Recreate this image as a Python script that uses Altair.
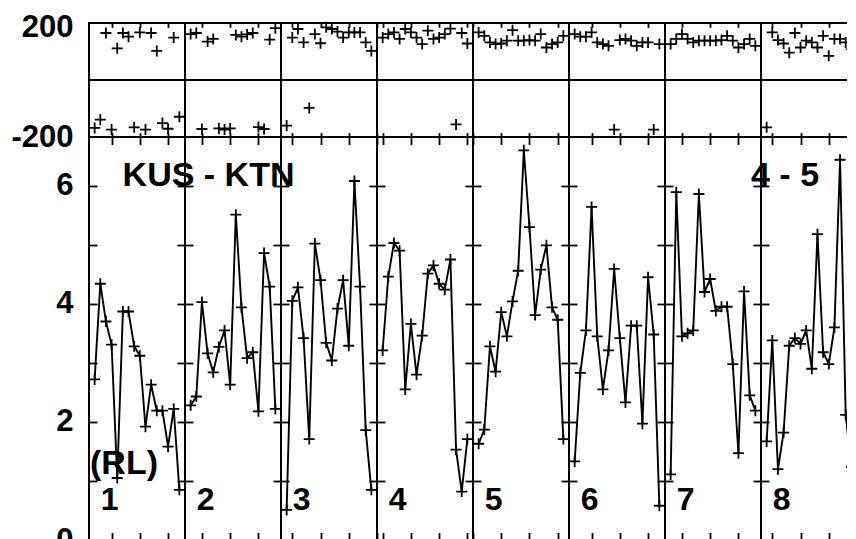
import altair as alt
import pandas as pd

# ---------------- data ----------------
panel_numbers = ["1", "2", "3", "4", "5", "6", "7", "8"]

amplitude = [
    [2.72, 4.34, 3.70, 3.31, 1.05, 3.87, 3.87, 3.28, 3.12, 1.92, 2.63, 2.19, 2.19, 1.58, 2.22, 0.85],
    [2.28, 2.43, 4.03, 3.16, 2.84, 3.27, 3.55, 2.63, 5.51, 3.94, 3.08, 3.18, 2.18, 4.86, 4.29, 2.22],
    [0.51, 4.05, 4.28, 3.42, 1.71, 5.02, 4.40, 3.34, 3.04, 3.92, 4.40, 3.29, 6.08, 4.29, 1.86, 0.85],
    [3.21, 4.46, 5.03, 4.90, 2.55, 3.66, 2.80, 3.46, 4.51, 4.65, 4.34, 4.24, 4.75, 1.53, 0.82, 1.71],
    [1.63, 1.87, 3.28, 2.85, 3.86, 3.45, 4.04, 4.56, 6.60, 5.30, 3.81, 4.58, 4.99, 3.94, 3.73, 1.71],
    [1.33, 2.83, 3.55, 5.64, 3.45, 2.55, 3.21, 4.59, 3.42, 2.33, 3.63, 3.63, 1.97, 4.45, 3.48, 0.58],
    [1.11, 5.89, 3.45, 3.50, 3.55, 5.86, 4.20, 4.42, 3.88, 3.95, 3.95, 2.98, 1.47, 4.21, 2.45, 2.19],
    [1.67, 3.38, 1.20, 1.82, 3.29, 3.42, 3.32, 3.55, 2.90, 5.18, 3.18, 2.98, 3.60, 6.44, 2.12, 1.24],
]

phase = [
    [-168, -139, 165, -174, 111, 165, 152, -166, 167, -174, 165, 102, -151, -171, 149, -129],
    [161, 165, -172, 135, 144, -170, -174, -170, 158, 152, 160, 165, -165, -172, 142, 182],
    [-160, 149, 179, 132, -98, 161, 129, 185, 179, 170, 149, 167, 167, 167, 132, 102],
    [149, 161, 167, 144, 179, 167, 149, 126, 173, 144, 149, 161, 180, -156, 165, 128],
    [167, 155, 132, 126, 128, 138, 175, 138, 138, 140, 138, 161, 114, 126, 132, 155],
    [161, 152, 152, 167, 132, 126, 120, -174, 140, 144, 138, 120, 132, 132, -174, 126],
    [126, 144, 161, 144, 132, 138, 138, 138, 138, 140, 155, 138, 114, 126, 144, 120],
    [-166, 167, 140, 128, 96, 165, 114, 138, 132, 114, 155, 85, 144, 144, 132, 108],
]

amp_ticks = [0, 1, 2, 3, 4, 5, 6]
phase_top_label = [200]
phase_bottom_label = [-200]

ann_text = ["KUS - KTN", "(RL)", "4 - 5"]
ann_panel = [0, 0, 7]

# ---------------- layout / style ----------------
FONT = "Liberation Sans"
PANEL_W, TOP_H, LOW_H = 96, 114, 403
LAST_W = 86            # last panel is cut by the window edge
N = 16                 # samples per panel
SPAN = 17              # x extent of a full panel
AMP_DOMAIN = [0, 6.825]
PHASE_DOMAIN = [-200, 200]
PLUS = "M-1,0L1,0M0,-1L0,1"
ann_x = [5.95, 0.18, -1.77]      # local x of annotation anchors
ann_y = [6.0, 1.12, 6.0]
num_x, num_y = 2.1, 0.515
LINE_W = 1.9


def is_last(p):
    return p == 7


def scales(p):
    lo = N * p + 1
    w = LAST_W if is_last(p) else PANEL_W
    hi = lo + SPAN * w / PANEL_W
    xs = [lo + i for i in range(1, N + 1)]
    df = pd.DataFrame({"x": xs, "amp": amplitude[p], "phase": phase[p]})
    ticks = [v for v in range(lo, int(hi) + 1) if v % 5 == 0]
    xsc = alt.Scale(domain=[lo, hi], nice=False, zero=False)
    return lo, df, ticks, xsc, w


def xaxis(ticks, orient, size):
    return alt.Axis(orient=orient, values=ticks, labels=False, domain=False,
                    grid=False, tickSize=size, offset=-size, tickColor="black",
                    tickWidth=1.8, title=None)


def plus(p):
    return dict(shape=PLUS, size=121, filled=False, color="black", strokeWidth=1.8,
                opacity=1, clip=is_last(p))


def edge_rules(values, scale):
    return alt.Chart(pd.DataFrame({"v": values})).mark_rule(
        color="black", strokeWidth=2).encode(y=alt.Y("v:Q", scale=scale, axis=None))


def phase_axis(values, shift):
    return alt.Axis(orient="left", values=values, ticks=False, domain=False,
                    grid=False, labelFont=FONT, labelFontSize=31,
                    labelFontWeight="bold", labelColor="black", labelPadding=16,
                    labelOffset=shift, labelExpr="datum.value + ''", title=None)


def top_panel(p):
    lo, df, ticks, xsc, w = scales(p)
    yp = alt.Scale(domain=PHASE_DOMAIN, nice=False, zero=False)
    base = alt.Chart(df)
    ya1 = phase_axis(phase_top_label, 4.5) if p == 0 else None
    ya2 = phase_axis(phase_bottom_label, 0) if p == 0 else None
    lines = [0] + (PHASE_DOMAIN if is_last(p) else [])
    ch = alt.layer(
        base.mark_point(**plus(p)).encode(
            x=alt.X("x:Q", scale=xsc, axis=xaxis(ticks, "top", 4.3)),
            y=alt.Y("phase:Q", scale=yp, axis=ya1)),
        base.mark_point(opacity=0, clip=is_last(p)).encode(
            x=alt.X("x:Q", scale=xsc, axis=xaxis(ticks, "bottom", 4.3)),
            y=alt.Y("phase:Q", scale=yp, axis=ya2)),
        edge_rules(lines, yp),
    ).resolve_axis(x="independent", y="independent").properties(width=w, height=TOP_H)
    if is_last(p):
        ch = ch.properties(view=alt.ViewBackground(strokeOpacity=0))
    return ch


def low_panel(p):
    lo, df, ticks, xsc, w = scales(p)
    ya = alt.Scale(domain=AMP_DOMAIN, nice=False, zero=False)
    base = alt.Chart(df)
    yleft = alt.Axis(orient="left", values=amp_ticks, labels=(p == 0),
                     labelExpr="datum.value % 2 == 0 ? datum.label : ''",
                     labelFont=FONT, labelFontSize=31, labelFontWeight="bold",
                     labelColor="black", labelPadding=16, tickSize=8, offset=-8,
                     tickColor="black", tickWidth=1.8, domain=False, grid=False, title=None)
    if is_last(p):
        yright = None
    else:
        yright = alt.Axis(orient="right", values=amp_ticks, labels=False, tickSize=8,
                          offset=-8, tickColor="black", tickWidth=1.8, domain=False,
                          grid=False, title=None)

    num = pd.DataFrame({"x": [lo + num_x], "y": [num_y], "t": [panel_numbers[p]]})
    rows = [{"x": lo + ax, "y": ay, "t": t}
            for t, pp, ax, ay in zip(ann_text, ann_panel, ann_x, ann_y) if pp == p]

    def text_layer(frame, size):
        return alt.Chart(frame).mark_text(font=FONT, fontSize=size, fontWeight="bold",
                                          color="black", align="left",
                                          baseline="alphabetic").encode(
            x=alt.X("x:Q", scale=xsc, axis=None),
            y=alt.Y("y:Q", scale=ya, axis=None),
            text="t:N")

    layers = [
        base.mark_line(color="black", strokeWidth=LINE_W, clip=is_last(p)).encode(
            x=alt.X("x:Q", scale=xsc, axis=xaxis(ticks, "bottom", 7.5)),
            y=alt.Y("amp:Q", scale=ya, axis=yleft)),
        base.mark_point(**plus(p)).encode(
            x=alt.X("x:Q", scale=xsc, axis=xaxis(ticks, "top", 7.5)),
            y=alt.Y("amp:Q", scale=ya, axis=yright)),
        text_layer(num, 32),
    ]
    if rows:
        layers.append(text_layer(pd.DataFrame(rows), 34))
    if is_last(p):
        layers.append(edge_rules(AMP_DOMAIN, ya))
    ch = alt.layer(*layers).resolve_axis(x="independent", y="independent").properties(
        width=w, height=LOW_H)
    if is_last(p):
        ch = ch.properties(view=alt.ViewBackground(strokeOpacity=0))
    return ch


panels = [top_panel(p) for p in range(8)] + [low_panel(p) for p in range(8)]

chart = alt.concat(*panels, columns=8, spacing=0, bounds="flush").properties(
    padding={"left": 1, "top": 2, "right": 0, "bottom": 0},
    background="white",
).configure_view(stroke="black", strokeWidth=2)

chart.save("out.html", embed_options={"renderer": "svg", "actions": False})
